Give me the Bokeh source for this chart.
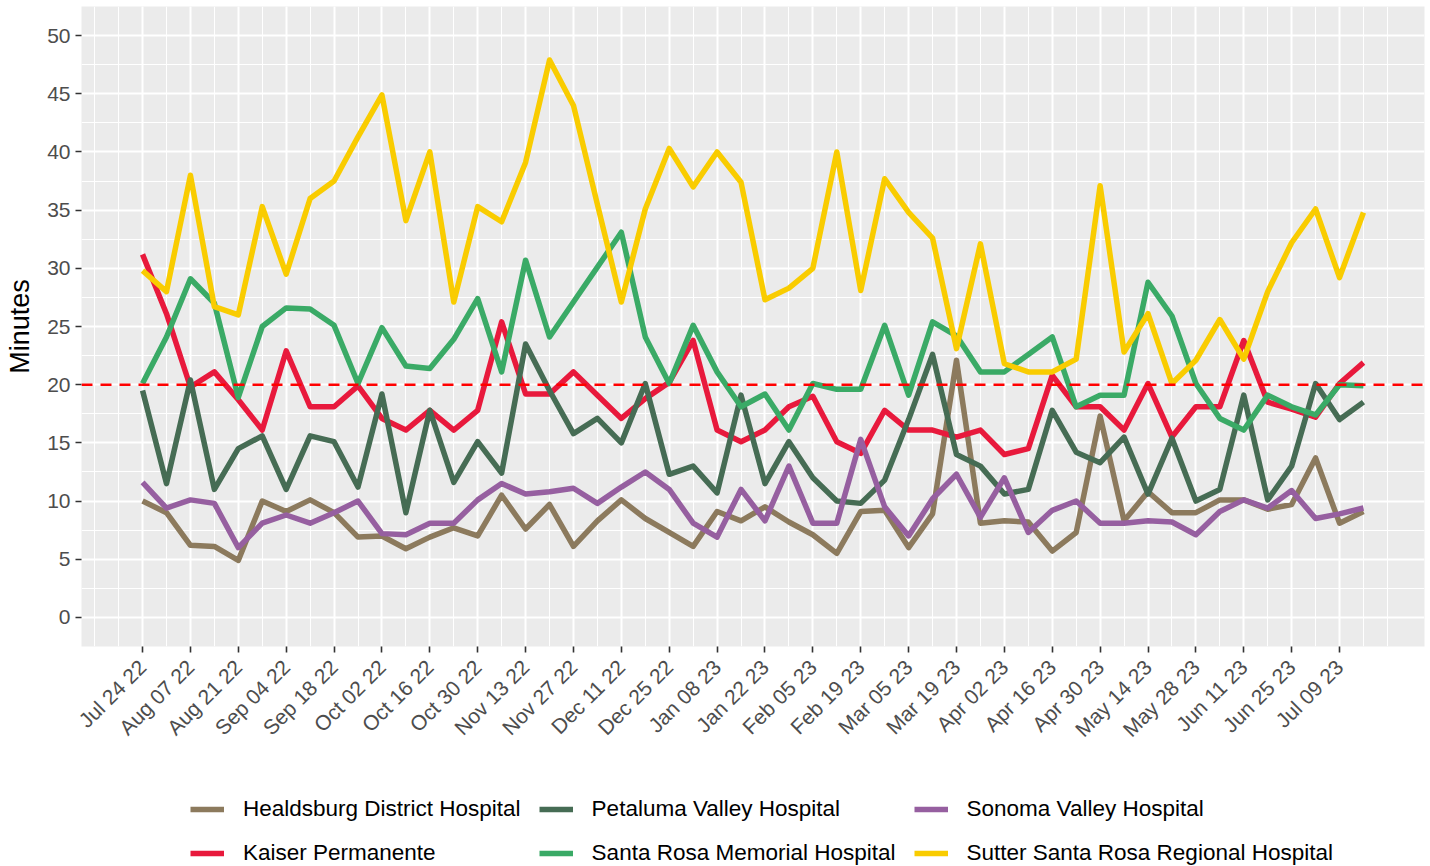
import math
import pandas as pd
from bokeh.plotting import figure
from bokeh.layouts import column
from bokeh.models import (Range1d, FixedTicker, DatetimeTickFormatter, Span,
                          Legend, LegendItem, ColumnDataSource)
from bokeh.embed import file_html
from bokeh.resources import INLINE

# ---------------- data ----------------
weeks = pd.date_range("2022-07-24", periods=52, freq="7D")
tick_dates = pd.date_range("2022-07-24", "2023-07-09", freq="14D")
minor_dates = pd.date_range("2022-07-10", "2023-07-23", freq="7D")

hospitals = [
    "Healdsburg District Hospital",
    "Kaiser Permanente",
    "Petaluma Valley Hospital",
    "Santa Rosa Memorial Hospital",
    "Sonoma Valley Hospital",
    "Sutter Santa Rosa Regional Hospital",
]
colors = ["#8C7A5D", "#E8193C", "#466C54", "#3AAA66", "#965FA0", "#F9CC00"]

healdsburg = [10.0, 9.0, 6.2, 6.1, 4.9, 10.0, 9.1, 10.1, 9.0, 6.9, 7.0, 5.9, 6.9,
              7.7, 7.0, 10.5, 7.6, 9.7, 6.1, 8.3, 10.1, 8.5, 7.3, 6.1, 9.1, 8.3,
              9.5, 8.2, 7.1, 5.5, 9.1, 9.2, 6.0, 8.9, 22.1, 8.1, 8.3, 8.2, 5.7,
              7.3, 17.3, 8.3, 10.8, 9.0, 9.0, 10.1, 10.1, 9.3, 9.7, 13.7, 8.1, 9.1]
kaiser = [31.2, 26.1, 19.8, 21.1, 18.7, 16.1, 22.9, 18.1, 18.1, 19.9, 17.1, 16.1,
          17.8, 16.1, 17.8, 25.4, 19.2, 19.2, 21.1, 19.1, 17.1, 18.8, 20.2, 23.8,
          16.1, 15.1, 16.1, 18.1, 19.0, 15.1, 14.1, 17.8, 16.1, 16.1, 15.5, 16.1,
          14.0, 14.5, 20.8, 18.1, 18.1, 16.1, 20.1, 15.5, 18.1, 18.1, 23.8, 18.5,
          17.9, 17.2, 20.1, 21.9]
petaluma = [19.5, 11.5, 20.4, 11.0, 14.5, 15.6, 11.0, 15.6, 15.1, 11.2, 19.2, 9.0,
            17.8, 11.6, 15.1, 12.4, 23.5, 19.5, 15.8, 17.1, 15.0, 20.1, 12.3, 13.0,
            10.7, 19.1, 11.5, 15.1, 12.0, 10.0, 9.8, 11.8, 17.0, 22.6, 14.0, 13.0,
            10.6, 11.0, 17.8, 14.2, 13.3, 15.5, 10.6, 15.4, 10.0, 11.0, 19.1, 10.1,
            13.0, 20.1, 17.0, 18.5]
santa_rosa_memorial = [20.1, 24.1, 29.1, 27.0, 18.9, 25.0, 26.6, 26.5, 25.1, 20.1,
                       24.9, 21.6, 21.4, 23.9, 27.4, 21.1, 30.7, 24.1, 27.1, 30.1,
                       33.1, 24.1, 20.1, 25.1, 21.1, 18.1, 19.2, 16.1, 20.1, 19.6,
                       19.6, 25.1, 19.1, 25.4, 24.2, 21.1, 21.1, 22.6, 24.1, 18.1,
                       19.1, 19.1, 28.8, 25.9, 20.1, 17.1, 16.1, 19.1, 18.1, 17.4,
                       20.0, 19.9]
sonoma = [11.6, 9.4, 10.1, 9.8, 6.0, 8.1, 8.8, 8.1, 9.0, 10.0, 7.2, 7.1, 8.1, 8.1,
          10.1, 11.5, 10.6, 10.8, 11.1, 9.8, 11.2, 12.5, 11.0, 8.1, 6.9, 11.0, 8.3,
          13.0, 8.1, 8.1, 15.3, 9.5, 7.0, 10.2, 12.3, 8.6, 12.0, 7.3, 9.2, 10.0,
          8.1, 8.1, 8.3, 8.2, 7.1, 9.1, 10.1, 9.4, 10.9, 8.5, 8.9, 9.4]
sutter = [29.8, 28.0, 38.0, 26.7, 26.0, 35.3, 29.5, 36.0, 37.5, 41.3, 44.9, 34.1,
          40.0, 27.1, 35.3, 34.0, 39.1, 47.9, 44.0, 35.5, 27.1, 35.1, 40.3, 37.0,
          40.0, 37.4, 27.3, 28.3, 30.0, 40.0, 28.1, 37.7, 34.8, 32.6, 23.1, 32.1,
          21.8, 21.1, 21.1, 22.2, 37.1, 22.8, 26.1, 20.1, 22.1, 25.6, 22.2, 28.0,
          32.2, 35.1, 29.2, 34.8]
series = [healdsburg, kaiser, petaluma, santa_rosa_memorial, sonoma, sutter]

threshold = 20
y_ticks = list(range(0, 55, 5))
y_minor = [v + 2.5 for v in range(-5, 55, 5)]


def to_ms(dates):
    return [d.value / 1e6 for d in dates]


week_ms = 7 * 24 * 3600 * 1000.0
x_start = to_ms(weeks)[0] - 2.55 * week_ms
x_end = to_ms(weeks)[-1] + 2.55 * week_ms

FONT = "Liberation Sans"
LINE_W = 5.5

# ---------------- main plot ----------------
p = figure(width=1430, height=780, x_axis_type="datetime",
           x_range=Range1d(x_start, x_end), y_range=Range1d(-2.5, 52.5),
           output_backend="svg", toolbar_location=None,
           min_border_left=81, min_border_right=6, min_border_top=6,
           min_border_bottom=134)

p.background_fill_color = "#EBEBEB"
p.border_fill_color = "white"
p.outline_line_color = None

p.xaxis.ticker = FixedTicker(ticks=to_ms(tick_dates), minor_ticks=to_ms(minor_dates))
fmt = "%b %d %y"
p.xaxis.formatter = DatetimeTickFormatter(
    milliseconds=fmt, seconds=fmt, minsec=fmt, minutes=fmt, hourmin=fmt,
    hours=fmt, days=fmt, months=fmt, years=fmt)
p.xaxis.major_label_orientation = math.pi / 4
p.yaxis.ticker = FixedTicker(ticks=y_ticks, minor_ticks=y_minor)
p.yaxis.axis_label = "Minutes"

for ax in (p.xaxis, p.yaxis):
    ax.axis_line_color = None
    ax.major_tick_in = 0
    ax.major_tick_out = 6
    ax.major_tick_line_color = "#333333"
    ax.major_tick_line_width = 1.6
    ax.minor_tick_line_color = None
    ax.major_label_text_font = FONT
    ax.major_label_text_font_size = "21px"
    ax.major_label_text_color = "#4D4D4D"
    ax.major_label_standoff = 5
p.xaxis.major_label_standoff = 11

p.yaxis.axis_label_text_font = FONT
p.yaxis.axis_label_text_font_size = "27px"
p.yaxis.axis_label_text_font_style = "normal"
p.yaxis.axis_label_text_color = "black"
p.yaxis.axis_label_standoff = 9

p.grid.grid_line_color = "white"
p.grid.grid_line_width = 2
p.grid.minor_grid_line_color = "white"
p.grid.minor_grid_line_width = 1

for vals, col in zip(series, colors):
    src = ColumnDataSource(dict(x=weeks, y=vals))
    p.line("x", "y", source=src, line_color=col, line_width=LINE_W,
           line_join="round")

p.add_layout(Span(location=threshold, dimension="width", line_color="#FF0000",
                  line_width=2.5, line_dash="11 8"))

# ---------------- legend strip ----------------
lg = figure(width=1430, height=86, x_range=Range1d(0, 1), y_range=Range1d(0, 1),
            output_backend="svg", toolbar_location=None,
            x_axis_location=None, y_axis_location=None,
            min_border_left=0, min_border_right=0, min_border_top=0,
            min_border_bottom=0)
lg.grid.visible = False
lg.outline_line_color = None
lg.background_fill_color = "white"
lg.border_fill_color = "white"

items = []
for name, col in zip(hospitals, colors):
    # key renderer only (placed outside the visible range)
    r = lg.line([-5, -4], [-5, -5], line_color=col, line_width=LINE_W)
    items.append(LegendItem(label=name, renderers=[r]))

legend = Legend(items=items, orientation="vertical", nrows=2,
                location=(109, 0), glyph_width=34, glyph_height=24,
                label_height=24, label_standoff=19, spacing=18, padding=0,
                margin=0, background_fill_alpha=0, border_line_alpha=0,
                label_text_font=FONT, label_text_font_size="22.5px",
                label_text_color="black")
lg.add_layout(legend)

layout = column(p, lg, spacing=0)
open("out.html", "w").write(file_html(layout, INLINE))
